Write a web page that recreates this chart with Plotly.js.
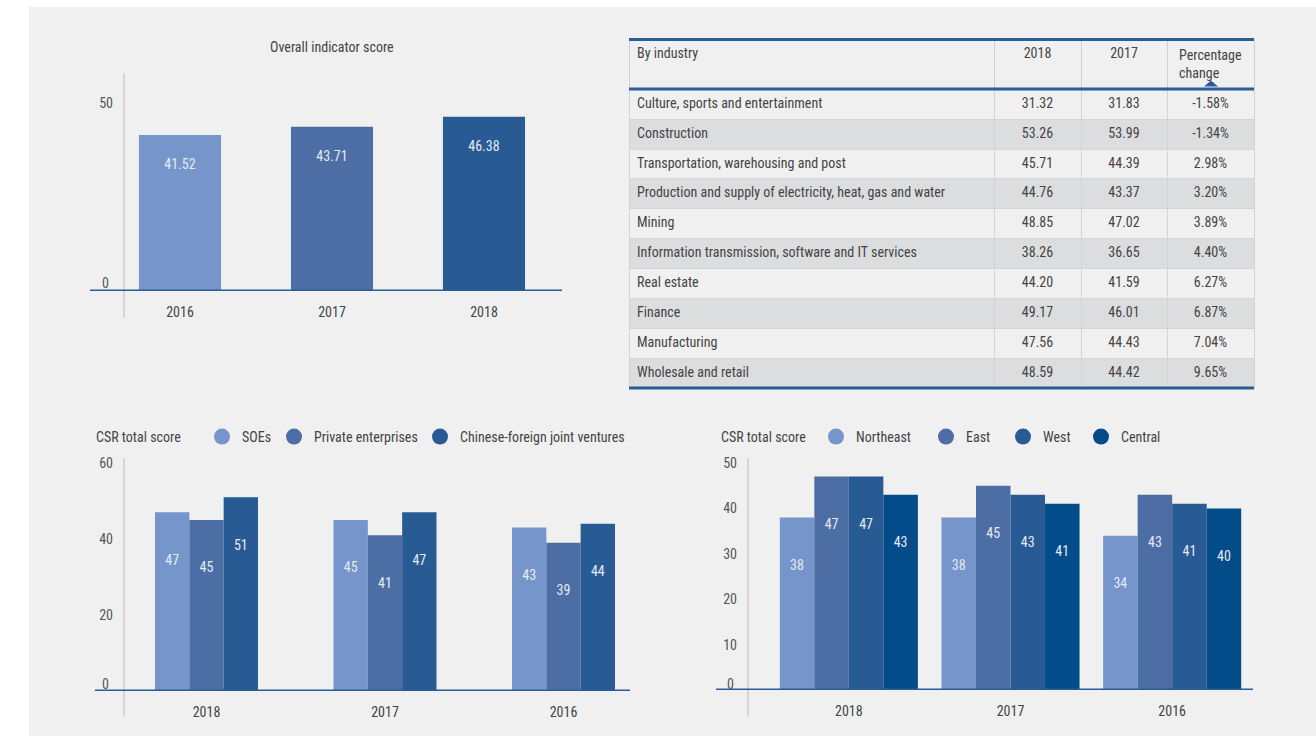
<!DOCTYPE html>
<html>
<head>
<meta charset="utf-8">
<script src="https://cdn.plot.ly/plotly-3.0.1.min.js"></script>
<style>html,body{margin:0;padding:0;background:#fff;}#chart{width:1316px;height:736px;}</style>
</head>
<body>
<div id="chart"></div>
<script>
// ---------- DATA ----------
const overallYears = ['2016', '2017', '2018'];
const overallScores = [41.52, 43.71, 46.38];

const ownershipYears = ['2018', '2017', '2016'];
const ownershipSeries = ['SOEs', 'Private enterprises', 'Chinese-foreign joint ventures'];
const soeScores = [47, 45, 43];
const privateScores = [45, 41, 39];
const jointVentureScores = [51, 47, 44];

const regionYears = ['2018', '2017', '2016'];
const regionSeries = ['Northeast', 'East', 'West', 'Central'];
const northeastScores = [38, 38, 34];
const eastScores = [47, 45, 43];
const westScores = [47, 43, 41];
const centralScores = [43, 41, 40];

const tableHeaders = ['By industry', '2018', '2017', 'Percentage<br>change'];
const industries = [
  'Culture, sports and entertainment',
  'Construction',
  'Transportation, warehousing and post',
  'Production and supply of electricity, heat, gas and water',
  'Mining',
  'Information transmission, software and IT services',
  'Real estate',
  'Finance',
  'Manufacturing',
  'Wholesale and retail'
];
const industry2018 = [31.32, 53.26, 45.71, 44.76, 48.85, 38.26, 44.20, 49.17, 47.56, 48.59];
const industry2017 = [31.83, 53.99, 44.39, 43.37, 47.02, 36.65, 41.59, 46.01, 44.43, 44.42];
const industryChange = [-1.58, -1.34, 2.98, 3.20, 3.89, 4.40, 6.27, 6.87, 7.04, 9.65];

// ---------- STYLE ----------
const W = 1316, H = 736;
const px = x => x / W;
const py = y => 1 - y / H;
const FONT = '"Roboto Condensed", "Liberation Sans Narrow", "Arial Narrow", Roboto, sans-serif';
const C1 = '#7595cb', C2 = '#4d6ea4', C3 = '#285b93', C4 = '#034b89';
const BLUE_LINE = '#2b5c99';
const TXT = '#444444';
const BAR_TXT = '#e4eaf4';
const NB = '\u00a0';

function barTrace(x, y, name, color, xa, ya, width, offset, tpl) {
  return {
    type: 'bar', x: x, y: y, name: name, xaxis: xa, yaxis: ya,
    marker: {color: color}, width: width, offset: offset,
    texttemplate: tpl, textposition: 'inside', insidetextanchor: 'end',
    textangle: 0, constraintext: 'none', textfont: {family: FONT, size: 14, color: BAR_TXT},
    showlegend: false, hoverinfo: 'skip'
  };
}
function legendTrace(name, color, xa, ya, lg) {
  return {
    type: 'scatter', mode: 'markers', x: [null], y: [null], name: name,
    xaxis: xa, yaxis: ya, legend: lg, showlegend: true,
    marker: {color: color, size: 18, symbol: 'circle'}, hoverinfo: 'skip'
  };
}

const tplTop = NB + '<br>%{y:.2f}';
const tplBot = NB + '<br>' + NB + '<br>%{y}';

const traces = [];
// Top-left
traces.push(barTrace(overallYears, overallScores, 'Overall', [C1, C2, C3], 'x', 'y', 0.54, -0.27, tplTop));
// Bottom-left
const bw2 = 0.1923;
traces.push(barTrace(ownershipYears, soeScores, ownershipSeries[0], C1, 'x2', 'y2', bw2, -1.5 * bw2, tplBot));
traces.push(barTrace(ownershipYears, privateScores, ownershipSeries[1], C2, 'x2', 'y2', bw2, -0.5 * bw2, tplBot));
traces.push(barTrace(ownershipYears, jointVentureScores, ownershipSeries[2], C3, 'x2', 'y2', bw2, 0.5 * bw2, tplBot));
traces.push(legendTrace(ownershipSeries[0], C1, 'x2', 'y2', 'legend'));
traces.push(legendTrace(ownershipSeries[1], C2, 'x2', 'y2', 'legend2'));
traces.push(legendTrace(ownershipSeries[2], C3, 'x2', 'y2', 'legend3'));
// Bottom-right
const bw3 = 0.2135;
traces.push(barTrace(regionYears, northeastScores, regionSeries[0], C1, 'x3', 'y3', bw3, -2 * bw3, tplBot));
traces.push(barTrace(regionYears, eastScores, regionSeries[1], C2, 'x3', 'y3', bw3, -1 * bw3, tplBot));
traces.push(barTrace(regionYears, westScores, regionSeries[2], C3, 'x3', 'y3', bw3, 0, tplBot));
traces.push(barTrace(regionYears, centralScores, regionSeries[3], C4, 'x3', 'y3', bw3, bw3, tplBot));
traces.push(legendTrace(regionSeries[0], C1, 'x3', 'y3', 'legend4'));
traces.push(legendTrace(regionSeries[1], C2, 'x3', 'y3', 'legend5'));
traces.push(legendTrace(regionSeries[2], C3, 'x3', 'y3', 'legend6'));
traces.push(legendTrace(regionSeries[3], C4, 'x3', 'y3', 'legend7'));

// Table
const rowFills = industries.map((_, i) => i % 2 === 0 ? '#f0f0f0' : '#dcdddf');
traces.push({
  type: 'table',
  domain: {x: [px(629), px(1254)], y: [py(389), py(39)]},
  columnwidth: [365, 87, 86, 87],
  header: {
    values: tableHeaders,
    align: ['left', 'center', 'center', 'center'],
    height: 49,
    fill: {color: '#f0f0f0'},
    line: {color: '#cfcfcf', width: 1},
    font: {family: FONT, size: 14, color: TXT}
  },
  cells: {
    values: [industries, industry2018, industry2017, industryChange],
    format: ['', '.2f', '.2f', '.2f'],
    suffix: ['', '', '', '%'],
    align: ['left', 'center', 'center', 'center'],
    height: 29.9,
    fill: {color: [rowFills, rowFills, rowFills, rowFills]},
    line: {color: '#d4d4d4', width: 1},
    font: {family: FONT, size: 14, color: TXT}
  }
});

const catAxis = (dom, anchor) => ({
  type: 'category', domain: dom, anchor: anchor, range: [-0.5, 2.5],
  showgrid: false, zeroline: false, showline: false, ticks: '',
  tickfont: {family: FONT, size: 14, color: TXT}, ticklabelstandoff: 11, fixedrange: true
});
const valAxis = (dom, range, pos, tv) => ({
  domain: dom, range: range, anchor: 'free', position: pos, tickvals: tv,
  showgrid: false, zeroline: false, showline: false, ticks: '',
  tickfont: {family: FONT, size: 14, color: '#555555'}, ticklabelstandoff: 11, fixedrange: true
});

const zeroLabel = (x, yref, shift) => ({
  text: '0', xref: 'paper', x: px(x), xanchor: 'right', yref: yref, y: 0, yanchor: 'middle',
  yshift: shift, showarrow: false, font: {family: FONT, size: 14, color: '#555555'}
});

const legendAt = (cx) => ({
  orientation: 'h', x: px(cx - 20), xanchor: 'left', y: py(437), yanchor: 'middle',
  bgcolor: 'rgba(0,0,0,0)', font: {family: FONT, size: 14, color: TXT},
  itemclick: false, itemdoubleclick: false
});

const legendTitle = (x) => ({
  text: 'CSR total score', xref: 'paper', yref: 'paper', x: px(x), y: py(437),
  xanchor: 'left', yanchor: 'middle', showarrow: false, font: {family: FONT, size: 14, color: TXT}
});

const layout = {
  width: W, height: H,
  margin: {l: 0, r: 0, t: 0, b: 0},
  paper_bgcolor: '#ffffff', plot_bgcolor: 'rgba(0,0,0,0)',
  barmode: 'overlay',
  font: {family: FONT, size: 14, color: TXT},
  xaxis: catAxis([px(104), px(560)], 'y'),
  yaxis: valAxis([py(291), py(73)], [0, 58], px(124), [50]),
  xaxis2: catAxis([px(117.25), px(652.75)], 'y2'),
  yaxis2: valAxis([py(691), py(458)], [0, 61.3], px(124), [20, 40, 60]),
  xaxis3: catAxis([px(768), px(1253)], 'y3'),
  yaxis3: valAxis([py(690), py(458)], [0, 51.1], px(748), [10, 20, 30, 40, 50]),
  legend: legendAt(222),
  legend2: legendAt(294),
  legend3: legendAt(440),
  legend4: legendAt(836),
  legend5: legendAt(946),
  legend6: legendAt(1023),
  legend7: legendAt(1101),
  shapes: [
    {type: 'rect', xref: 'paper', yref: 'paper', x0: px(29), x1: 1, y0: 0, y1: py(7), fillcolor: '#f0f0f0', line: {width: 0}, layer: 'below'},
    {type: 'line', xref: 'paper', yref: 'paper', x0: px(124), x1: px(124), y0: py(318), y1: py(73), line: {color: '#d6d6d6', width: 2}, layer: 'below'},
    {type: 'line', xref: 'paper', yref: 'paper', x0: px(124), x1: px(124), y0: py(716), y1: py(458), line: {color: '#d6d6d6', width: 2}, layer: 'below'},
    {type: 'line', xref: 'paper', yref: 'paper', x0: px(748), x1: px(748), y0: py(716), y1: py(458), line: {color: '#d6d6d6', width: 2}, layer: 'below'},
    {type: 'line', xref: 'paper', yref: 'y', x0: px(90), x1: px(562), y0: 0, y1: 0, line: {color: BLUE_LINE, width: 3}, layer: 'above'},
    {type: 'line', xref: 'paper', yref: 'y2', x0: px(95), x1: px(630), y0: 0, y1: 0, line: {color: BLUE_LINE, width: 3}, layer: 'above'},
    {type: 'line', xref: 'paper', yref: 'y3', x0: px(716), x1: px(1253), y0: 0, y1: 0, line: {color: BLUE_LINE, width: 3}, layer: 'above'},
    {type: 'line', xref: 'paper', yref: 'paper', x0: px(629), x1: px(1254), y0: py(39.5), y1: py(39.5), line: {color: BLUE_LINE, width: 3}, layer: 'above'},
    {type: 'line', xref: 'paper', yref: 'paper', x0: px(629), x1: px(1254), y0: py(89), y1: py(89), line: {color: BLUE_LINE, width: 3}, layer: 'above'},
    {type: 'line', xref: 'paper', yref: 'paper', x0: px(629), x1: px(1254), y0: py(388), y1: py(388), line: {color: BLUE_LINE, width: 3}, layer: 'above'},
    {type: 'path', xref: 'paper', yref: 'paper',
      path: 'M ' + px(1204) + ',' + py(86.5) + ' L ' + px(1218) + ',' + py(86.5) + ' L ' + px(1211) + ',' + py(80.5) + ' Z',
      fillcolor: BLUE_LINE, line: {width: 0}, layer: 'above'}
  ],
  annotations: [
    {text: 'Overall indicator score', xref: 'paper', yref: 'paper', x: px(332), y: py(47), xanchor: 'center', yanchor: 'middle', showarrow: false, font: {family: FONT, size: 14, color: TXT}},
    legendTitle(94),
    legendTitle(719),
    zeroLabel(111, 'y', 8),
    zeroLabel(111, 'y2', 7),
    zeroLabel(736, 'y3', 6)
  ]
};

Plotly.newPlot('chart', traces, layout, {displayModeBar: false, staticPlot: true});
</script>
</body>
</html>
